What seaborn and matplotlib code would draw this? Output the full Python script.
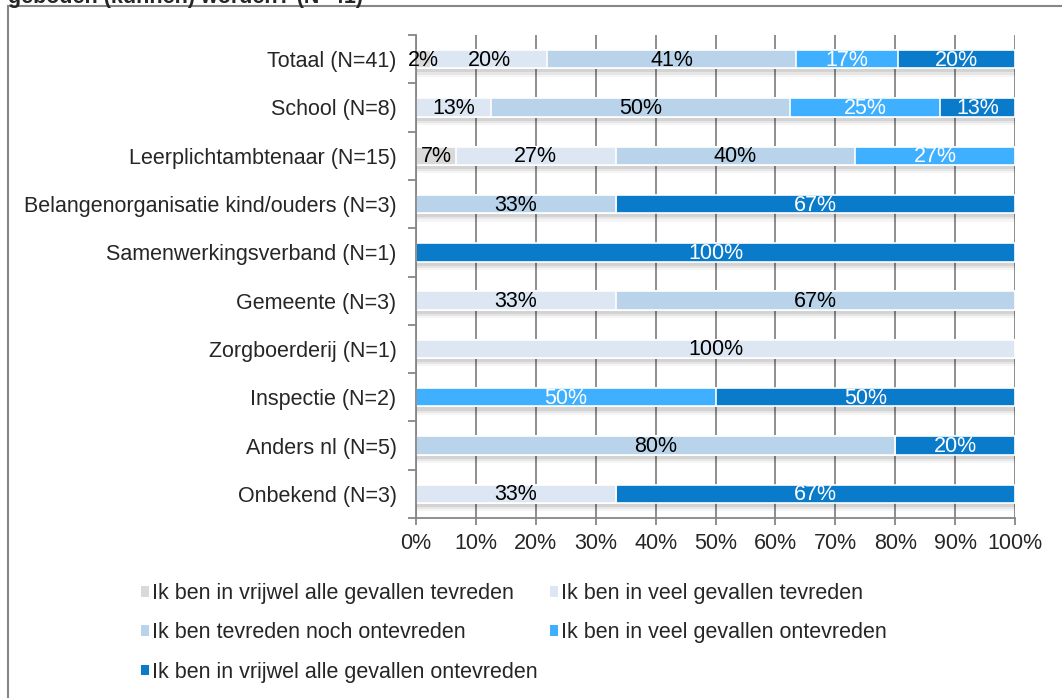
import numpy as np
import pandas as pd
import matplotlib
matplotlib.use('Agg')
import matplotlib.pyplot as plt
import matplotlib.patheffects as pe
from matplotlib.patches import Rectangle, Patch
import seaborn as sns

# data (percentages per row)
categories = [
    'Totaal (N=41)', 'School (N=8)', 'Leerplichtambtenaar (N=15)',
    'Belangenorganisatie kind/ouders (N=3)', 'Samenwerkingsverband (N=1)',
    'Gemeente (N=3)', 'Zorgboerderij (N=1)', 'Inspectie (N=2)',
    'Anders nl (N=5)', 'Onbekend (N=3)'
]
alle_tevreden   = [2.44, 0, 6.67, 0, 0, 0, 0, 0, 0, 0]
veel_tevreden   = [19.51, 12.5, 26.67, 0, 0, 33.33, 100, 0, 0, 33.33]
noch            = [41.46, 50, 40, 33.33, 0, 66.67, 0, 0, 80, 0]
veel_ontevreden = [17.07, 25, 26.67, 0, 0, 0, 0, 50, 0, 0]
alle_ontevreden = [19.51, 12.5, 0, 66.67, 100, 0, 0, 50, 20, 66.67]

series_names = [
    'Ik ben in vrijwel alle gevallen tevreden',
    'Ik ben in veel gevallen tevreden',
    'Ik ben tevreden noch ontevreden',
    'Ik ben in veel gevallen ontevreden',
    'Ik ben in vrijwel alle gevallen ontevreden',
]
colors = ['#D9D9D9', '#DCE7F3', '#B9D4EA', '#3FB0FF', '#0A7BCB']
text_colors = ['black', 'black', 'black', 'white', 'white']

series = [alle_tevreden, veel_tevreden, noch, veel_ontevreden, alle_ontevreden]

FS = 15.5

sns.set_style('white')
plt.rcParams['font.family'] = ['Liberation Sans', 'DejaVu Sans']

fig = plt.figure(figsize=(10.62, 6.98), dpi=100)
ax = fig.add_axes([416 / 1062, 1 - 518 / 698, (1015 - 416) / 1062, (518 - 35) / 698])

# stacked bars: draw cumulative totals from the right-most segment back
cum = np.cumsum(np.array(series), axis=0)
for i in range(len(series) - 1, -1, -1):
    df = pd.DataFrame({'cat': categories, 'val': cum[i]})
    n_before = len(ax.patches)
    sns.barplot(data=df, x='val', y='cat', order=categories, orient='h',
                color=colors[i], saturation=1, width=0.38,
                edgecolor='white', linewidth=1.2, ax=ax)
    if i == len(series) - 1:
        # soft drop shadow under each full bar
        for p in ax.patches[n_before:]:
            p.set_path_effects([
                pe.SimplePatchShadow(offset=(1, -6), shadow_rgbFace='#000000', alpha=0.04),
                pe.SimplePatchShadow(offset=(1, -4.5), shadow_rgbFace='#000000', alpha=0.06),
                pe.SimplePatchShadow(offset=(1, -3), shadow_rgbFace='#000000', alpha=0.08),
                pe.Normal()])

# value labels
for i, vals in enumerate(series):
    start = cum[i] - np.array(vals)
    for j, v in enumerate(vals):
        if v <= 0:
            continue
        ax.text(start[j] + v / 2, j + 0.02, f'{int(v + 0.5)}%', ha='center',
                va='center', color=text_colors[i], fontsize=FS)

ax.set_xlim(0, 100)
ax.set_ylim(len(categories) - 0.5, -0.5)
ax.set_xlabel('')
ax.set_ylabel('')
ax.set_xticks(np.arange(0, 101, 10))
ax.set_xticklabels([f'{t}%' for t in range(0, 101, 10)], fontsize=FS)
ax.xaxis.grid(True, color='#868686', linewidth=1.3)
ax.set_axisbelow(True)
ax.tick_params(axis='x', length=5, width=1.3, color='#868686', direction='out',
               pad=6, bottom=True)
ax.set_yticks(np.arange(len(categories)))
ax.set_yticklabels(categories, fontsize=FS)
ax.set_yticks(np.arange(-0.5, len(categories), 1), minor=True)
ax.tick_params(axis='y', which='major', length=0, pad=14)
ax.tick_params(axis='y', which='minor', length=6, width=1.3, color='#868686',
               direction='out', left=True)
for s in ['top', 'right']:
    ax.spines[s].set_visible(False)
for s in ['left', 'bottom']:
    ax.spines[s].set_color('#868686')
    ax.spines[s].set_linewidth(1.3)

# legend, filled row by row
handles = [Patch(facecolor=c, edgecolor='none') for c in colors]
order = [0, 2, 4, 1, 3]
fig.legend([handles[k] for k in order], [series_names[k] for k in order],
           loc='upper left', bbox_to_anchor=(141 / 1062, 1 - 583 / 698),
           ncol=2, frameon=False, fontsize=FS, handlelength=0.37,
           handleheight=0.37, handletextpad=0.12, labelspacing=0.85,
           columnspacing=0.6, borderpad=0, borderaxespad=0)

# outer chart frame and clipped title
fig.patches.append(Rectangle((8 / 1062, -0.1), 1.2, 1.1 - 6 / 698, fill=False,
                             edgecolor='#868686', linewidth=1.5,
                             transform=fig.transFigure, clip_on=False))
fig.text(8 / 1062, 1 - 3 / 698, 'geboden (kunnen) worden? (N=41)', ha='left',
         va='baseline', fontsize=FS, fontweight='bold')

fig.savefig('out.png', dpi=100)
